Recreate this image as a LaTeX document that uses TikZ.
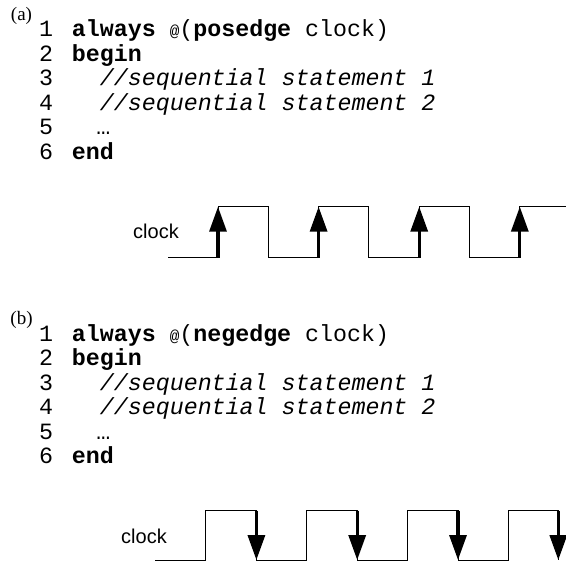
\documentclass[tikz,border=0pt]{standalone}
\usepackage{fontspec}
\setmainfont{Liberation Serif}
\setsansfont{Liberation Sans}
\setmonofont{Liberation Mono}
\usetikzlibrary{arrows.meta}

\newcommand{\kw}[1]{\textbf{#1}}
\newcommand{\cmt}[1]{\textit{#1}}
\newcommand{\atsign}{{\fontsize{8}{8}\selectfont @}}

\begin{document}
\begin{tikzpicture}[
  x=0.5pt, y=-0.5pt,
  code/.style={anchor=base west, inner sep=0pt, font=\fontsize{11.65}{12}\ttfamily},
  lineno/.style={code, anchor=base},
  tag/.style={inner sep=0pt, font=\fontsize{9.5}{10}\rmfamily},
  sig/.style={inner sep=0pt, anchor=base, font=\fontsize{10}{12}\sffamily},
  wave/.style={line width=0.5pt},
  clkarrow/.style={line width=1.65pt, -{Triangle[length=12.5pt,width=8.5pt]}}
]
  \useasboundingbox (0,0) rectangle (566,561);

  % code listings
  \foreach \dy/\tg/\ev in {0/a/posedge,304/b/negedge}{
    \begin{scope}[shift={(0,\dy)}]
      \node[tag] (\tg-tag) at (21.5,16) {(\tg)};
      \foreach \n in {1,...,6}
        \node[lineno] (\tg-n\n) at (46,{37+(\n-1)*24.5}) {\n};
      \node[code] (\tg-l1) at (71.5,37) {\kw{always} \atsign(\kw{\ev} clock)};
      \node[code] (\tg-l2) at (71.5,61.5) {\kw{begin}};
      \node[code] (\tg-l3) at (99.5,86) {\cmt{//sequential statement 1}};
      \node[code] (\tg-l4) at (99.5,110.5) {\cmt{//sequential statement 2}};
      \node[code] (\tg-l5) at (96,135) {…};
      \node[code] (\tg-l6) at (71.5,159.5) {\kw{end}};
    \end{scope}
  }

  % (a) posedge clock
  \node[sig] (a-clk) at (156,238) {clock};
  \draw[wave] (168,257.7) foreach \r in {218,318.6,419.2}
    { -- (\r,257.7) -- (\r,206.7) -- (\r+50.3,206.7) -- (\r+50.3,257.7) }
    -- (519.8,257.7) -- (519.8,206.7) -- (566,206.7);
  \foreach \r [count=\i] in {218,318.6,419.2,519.8}{
    \coordinate (a-lo\i) at (\r,257.7);
    \coordinate (a-hi\i) at (\r,206.7);
    \draw[clkarrow] (a-lo\i) -- (a-hi\i);
  }

  % (b) negedge clock
  \node[sig] (b-clk) at (144,543) {clock};
  \draw[wave] (155,560) foreach \r in {205.7,306.5,407.3}
    { -- (\r,560) -- (\r,510.7) -- (\r+50.7,510.7) -- (\r+50.7,560) }
    -- (508.1,560) -- (508.1,510.7) -- (558.3,510.7) -- (558.3,560);
  \foreach \f [count=\i] in {256.4,357.2,458,558.3}{
    \coordinate (b-hi\i) at (\f,510.7);
    \coordinate (b-lo\i) at (\f,560);
    \draw[clkarrow] (b-hi\i) -- (b-lo\i);
  }
\end{tikzpicture}
\end{document}
